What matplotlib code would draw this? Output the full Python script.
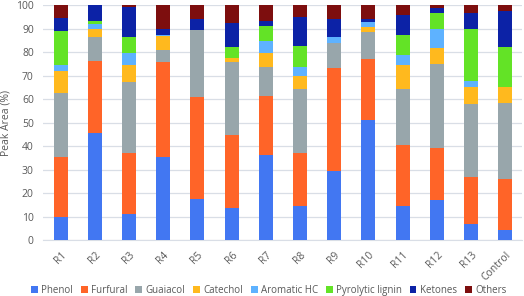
import numpy as np
import matplotlib.pyplot as plt

# --- data (Peak Area %) ---
samples = ["R1", "R2", "R3", "R4", "R5", "R6", "R7", "R8", "R9", "R10",
           "R11", "R12", "R13", "Control"]

phenol =    [10.0, 45.5, 11.0, 35.5, 17.3, 13.5, 36.0, 14.5, 29.5, 51.0, 14.6, 17.0, 6.8, 4.3]
furfural =  [25.5, 30.5, 26.2, 40.4, 43.7, 31.2, 25.4, 22.5, 43.7, 25.9, 25.8, 22.3, 20.0, 21.7]
guaiacol =  [27.0, 10.2, 30.0, 5.1, 28.4, 31.0, 12.2, 27.3, 10.5, 11.6, 23.9, 35.7, 31.2, 32.2]
catechol =  [9.5, 3.4, 7.3, 6.0, 0.0, 1.9, 5.8, 5.3, 0.0, 2.0, 10.0, 6.8, 7.0, 6.8]
aromatic =  [2.5, 2.2, 4.9, 0.3, 0.0, 0.0, 5.4, 3.9, 2.5, 2.1, 4.4, 8.0, 2.7, 0.0]
pyrolytic = [14.5, 1.5, 7.1, 0.0, 0.0, 4.7, 6.4, 9.2, 0.0, 0.0, 8.4, 6.7, 22.1, 17.3]
ketones =   [5.5, 6.7, 12.5, 2.5, 4.7, 9.9, 2.1, 12.3, 7.8, 1.3, 8.6, 2.2, 6.9, 15.3]
others =    [5.5, 0.0, 1.0, 10.2, 6.0, 7.8, 6.7, 5.0, 6.0, 6.1, 4.3, 1.3, 3.3, 2.4]

series_names = ["Phenol", "Furfural", "Guaiacol", "Catechol", "Aromatic HC",
                "Pyrolytic lignin", "Ketones", "Others"]
series_values = [phenol, furfural, guaiacol, catechol, aromatic,
                 pyrolytic, ketones, others]
colors = ["#4277f2", "#ff6428", "#98a6ab", "#ffb91e", "#5eb2ff",
          "#63e326", "#0c22a6", "#7d0e0e"]

plt.rcParams["font.family"] = ["Open Sans", "DejaVu Sans"]

fig = plt.figure(figsize=(5.24, 2.96), dpi=100)
ax = fig.add_axes([0.083, 0.189, 0.914, 0.794])

x = np.arange(len(samples))
bottom = np.zeros(len(samples))
for name, vals, col in zip(series_names, series_values, colors):
    vals = np.array(vals)
    ax.bar(x, vals, width=0.41, bottom=bottom, color=col, label=name,
           zorder=3)
    bottom += vals

ax.set_xlim(-0.5, len(samples) - 0.5)
ax.set_ylim(0, 100)
ax.set_yticks(range(0, 101, 10))
ax.yaxis.grid(True, color="#d9dee6", linewidth=0.9, zorder=0)
for s in ax.spines.values():
    s.set_visible(False)
ax.spines["bottom"].set_visible(True)
ax.spines["bottom"].set_color("#d9dee6")

ax.tick_params(axis="both", length=0, labelsize=7.5, labelcolor="#595959")
ax.tick_params(axis="y", pad=7)
ax.tick_params(axis="x", pad=7)
ax.set_xticks(x)
ax.set_xticklabels(samples, rotation=45, ha="right", rotation_mode="anchor")
ax.set_ylabel("Peak Area (%)", fontsize=7.5, color="#595959", labelpad=3)

handles, labels = ax.get_legend_handles_labels()
fig.legend(handles, labels, loc="lower center", bbox_to_anchor=(0.513, -0.03),
           ncol=8, frameon=False, fontsize=7, labelcolor="#595959",
           handlelength=0.7, handleheight=0.7, handletextpad=0.35,
           columnspacing=0.8)

fig.savefig("out.png", dpi=100)
